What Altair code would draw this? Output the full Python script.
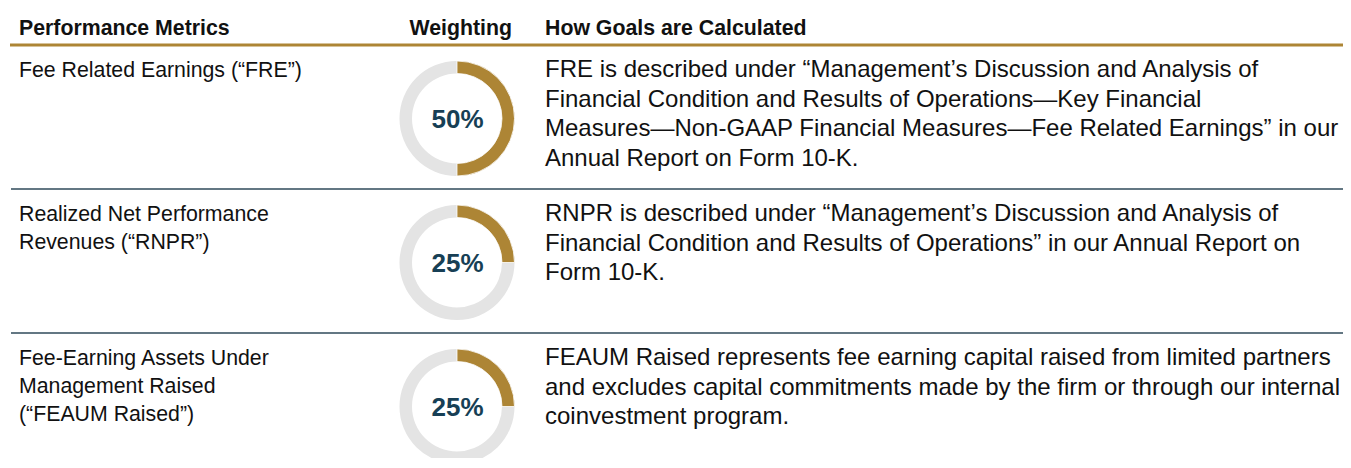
import altair as alt
import pandas as pd
import math

# ---------------- data ----------------
headers = ["Performance Metrics", "Weighting", "How Goals are Calculated"]
metric_lines = [
    ["Fee Related Earnings (“FRE”)"],
    ["Realized Net Performance", "Revenues (“RNPR”)"],
    ["Fee-Earning Assets Under", "Management Raised", "(“FEAUM Raised”)"],
]
weights = [50, 25, 25]
weight_labels = ["50%", "25%", "25%"]
desc_lines = [
    ["FRE is described under “Management’s Discussion and Analysis of",
     "Financial Condition and Results of Operations—Key Financial",
     "Measures—Non-GAAP Financial Measures—Fee Related Earnings” in our",
     "Annual Report on Form 10-K."],
    ["RNPR is described under “Management’s Discussion and Analysis of",
     "Financial Condition and Results of Operations” in our Annual Report on",
     "Form 10-K."],
    ["FEAUM Raised represents fee earning capital raised from limited partners",
     "and excludes capital commitments made by the firm or through our internal",
     "coinvestment program."],
]

# ---------------- style / layout ----------------
W, H = 1335, 450
ROW0, ROW_H = 37, 144
GOLD, GREY, NAVY, DIV = "#ad8535", "#e4e4e4", "#173f55", "#2f4a5a"
FONT = "Liberation Sans"
TAU = 2 * math.pi

metric_df = pd.DataFrame([{"row": r, "line": i, "text": t}
                          for r, ls in enumerate(metric_lines) for i, t in enumerate(ls)])
desc_df = pd.DataFrame([{"row": r, "line": i, "text": t}
                        for r, ls in enumerate(desc_lines) for i, t in enumerate(ls)])
weight_df = pd.DataFrame({"row": list(range(len(weights))), "weight": weights, "label": weight_labels})
head_df = pd.DataFrame({"text": headers, "col": [0, 1, 2]})
rule_df = pd.DataFrame({"row": list(range(len(weights)))})

yscale = alt.Scale(domain=[0, H], reverse=True)


def Y():
    return alt.Y("y:Q", scale=yscale, axis=None, stack=None)


header_left = alt.Chart(head_df).transform_filter("datum.col != 1").transform_calculate(
    y=f"{ROW0} - 10").mark_text(
    align="left", baseline="alphabetic", font=FONT, fontSize=21.3, fontWeight="bold", color="#111"
).encode(
    x=alt.X("col:Q", scale=alt.Scale(domain=[0, 2], range=[11, 537]), axis=None),
    y=Y(), text="text:N")

header_mid = alt.Chart(head_df).transform_filter("datum.col == 1").transform_calculate(
    y=f"{ROW0} - 10").mark_text(
    align="right", baseline="alphabetic", font=FONT, fontSize=21.3, fontWeight="bold", color="#111"
).encode(x=alt.value(504), y=Y(), text="text:N")

gold_rule = alt.Chart(rule_df).transform_filter("datum.row == 0").transform_calculate(
    y=f"{ROW0} + datum.row * {ROW_H}").mark_rule(color=GOLD, strokeWidth=3).encode(
    x=alt.value(2), x2=alt.value(W), y=Y())

div_rule = alt.Chart(rule_df).transform_filter("datum.row > 0").transform_calculate(
    y=f"{ROW0} + datum.row * {ROW_H}").mark_rule(color=DIV, strokeWidth=1.5).encode(
    x=alt.value(3), x2=alt.value(W), y=Y())

metrics = alt.Chart(metric_df).transform_calculate(
    y=f"{ROW0} + datum.row * {ROW_H} + 32 + datum.line * 28").mark_text(
    align="left", baseline="alphabetic", font=FONT, fontSize=21.3, color="#111"
).encode(x=alt.value(11), y=Y(), text="text:N")

descs = alt.Chart(desc_df).transform_calculate(
    y=f"{ROW0} + datum.row * {ROW_H} + 32 + datum.line * 29.7").mark_text(
    align="left", baseline="alphabetic", font=FONT, fontSize=24, color="#111"
).encode(x=alt.value(537), y=Y(), text="text:N")

ring = alt.Chart(weight_df).transform_calculate(
    y=f"{ROW0} + datum.row * {ROW_H} + 73.5",
    t0="0", t1=f"{TAU}").mark_arc(
    innerRadius=45, outerRadius=57.5, color=GREY
).encode(
    theta=alt.Theta("t0:Q", scale=None, stack=None), theta2="t1:Q",
    x=alt.value(449), y=Y())

gold_arc = alt.Chart(weight_df).transform_calculate(
    y=f"{ROW0} + datum.row * {ROW_H} + 73.5",
    t0="0", t1=f"datum.weight / 100 * {TAU}").mark_arc(
    innerRadius=45, outerRadius=57.5, color=GOLD, stroke="white", strokeWidth=0.8
).encode(
    theta=alt.Theta("t0:Q", scale=None, stack=None), theta2="t1:Q",
    x=alt.value(449), y=Y())

labels = alt.Chart(weight_df).transform_calculate(
    y=f"{ROW0} + datum.row * {ROW_H} + 73.5 + 9.3").mark_text(
    align="center", baseline="alphabetic", font=FONT, fontSize=26, fontWeight="bold", color=NAVY
).encode(x=alt.value(449.5), y=Y(), text="label:N")

chart = alt.layer(
    gold_rule, div_rule, header_left, header_mid, metrics, descs, ring, gold_arc, labels
).properties(
    width=W, height=H, padding=0, autosize=alt.AutoSizeParams(type="none")
).configure_view(stroke=None)

chart.save("out.html", embed_options={"renderer": "svg", "actions": False})
